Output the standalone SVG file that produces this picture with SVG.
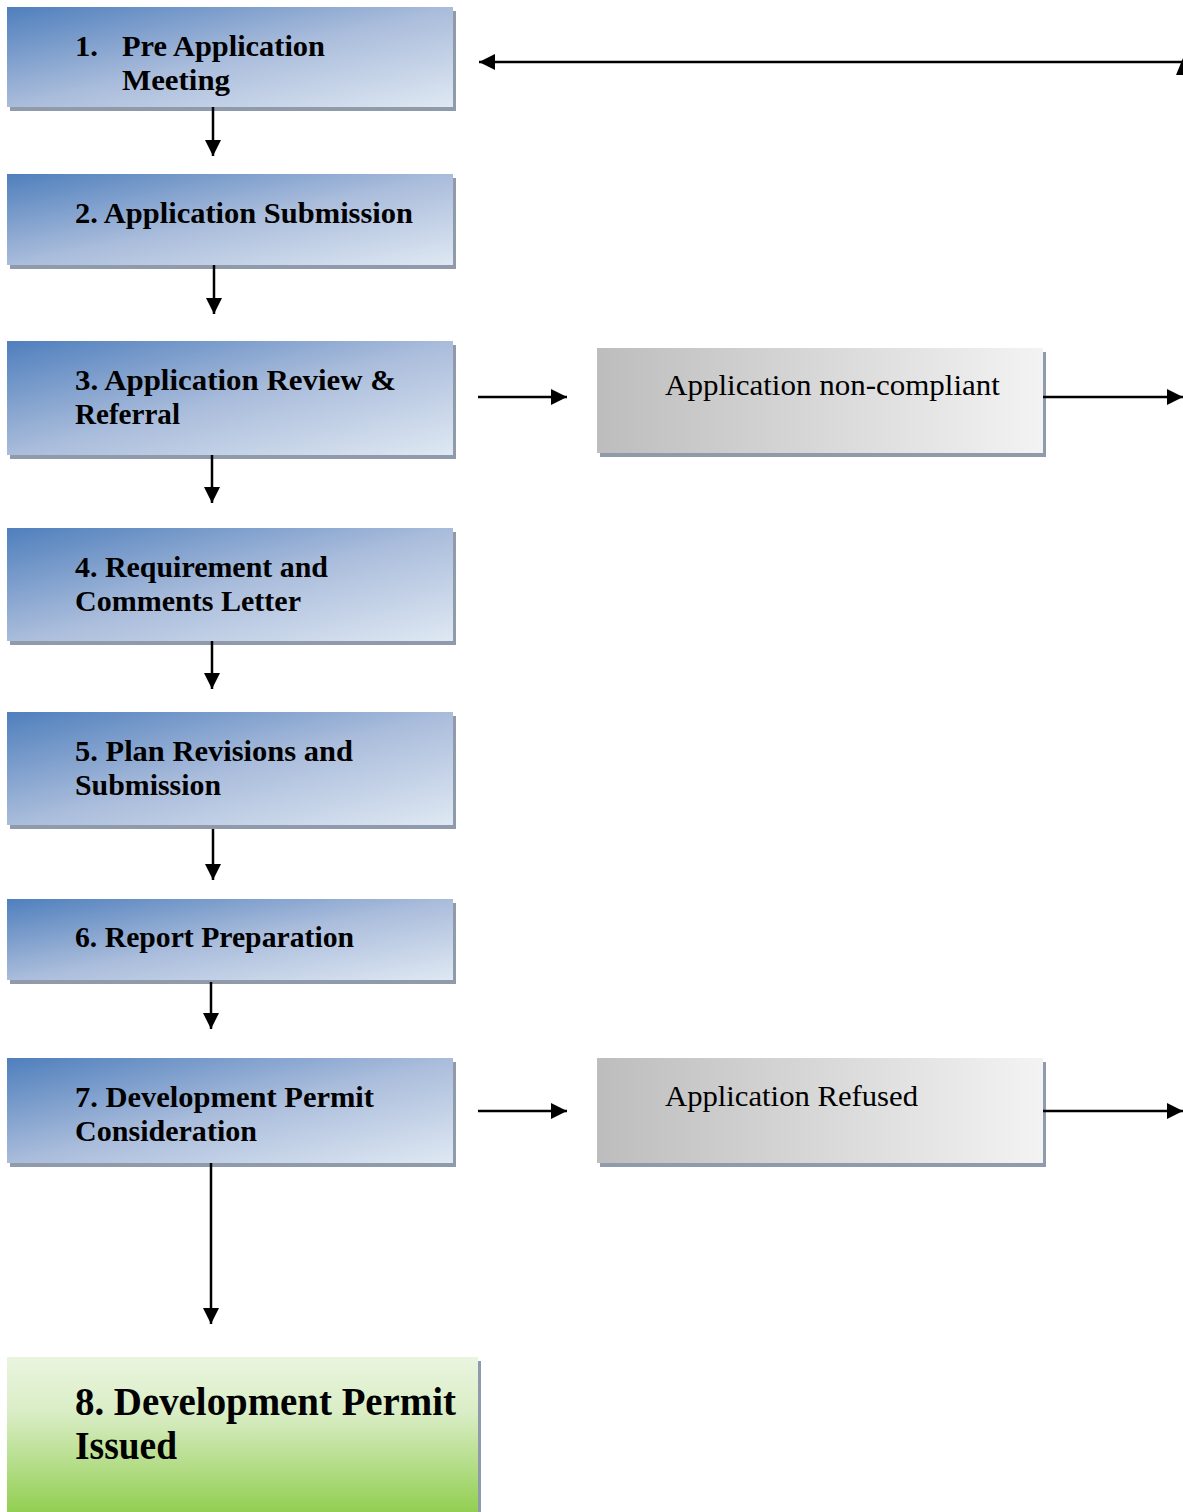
<svg xmlns="http://www.w3.org/2000/svg" width="1183" height="1512" viewBox="0 0 1183 1512">
<defs>
<linearGradient id="blue" x1="0" y1="0" x2="1" y2="1">
<stop offset="0" stop-color="#4f7fbd"/>
<stop offset="0.5" stop-color="#a9bcdb"/>
<stop offset="1" stop-color="#dfe8f3"/>
</linearGradient>
<linearGradient id="gray" x1="0" y1="0" x2="1" y2="0">
<stop offset="0" stop-color="#bdbdbd"/>
<stop offset="1" stop-color="#f3f3f3"/>
</linearGradient>
<linearGradient id="green" x1="0" y1="0" x2="0" y2="1">
<stop offset="0" stop-color="#eaf5e0"/>
<stop offset="0.35" stop-color="#d9edc5"/>
<stop offset="1" stop-color="#8fcd4c"/>
</linearGradient>
<marker id="ah" viewBox="0 0 10 10" refX="10" refY="5" markerWidth="16" markerHeight="16" markerUnits="userSpaceOnUse" orient="auto">
<path d="M0,0 L10,5 L0,10 z" fill="#000"/>
</marker>
</defs>
<style>
.shadow{fill:#8f9bab}
.b{fill:url(#blue)}
.g{fill:url(#gray)}
.gr{fill:url(#green)}
.t{font-family:"Liberation Serif","Times New Roman",serif;font-weight:bold;font-size:29px;fill:#000}
.t8{font-family:"Liberation Serif","Times New Roman",serif;font-weight:bold;font-size:39px;fill:#000}
.tg{font-family:"Liberation Serif","Times New Roman",serif;font-size:30px;fill:#000}
.c{stroke:#000;stroke-width:2.5;fill:none}
</style>
<rect width="1183" height="1512" fill="#fff"/>
<g id="n1">
<rect class="shadow" x="10" y="11" width="446" height="100"/>
<rect class="b" x="7" y="7" width="446" height="100"/>
<text class="t" x="75" y="56" textLength="23" lengthAdjust="spacingAndGlyphs">1.</text>
<text class="t" x="122" y="56" textLength="203" lengthAdjust="spacingAndGlyphs">Pre Application</text>
<text class="t" x="122" y="90" textLength="108" lengthAdjust="spacingAndGlyphs">Meeting</text>
</g>
<g id="n2">
<rect class="shadow" x="10" y="178" width="446" height="91"/>
<rect class="b" x="7" y="174" width="446" height="91"/>
<text class="t" x="75" y="223" textLength="338" lengthAdjust="spacingAndGlyphs">2. Application Submission</text>
</g>
<g id="n3">
<rect class="shadow" x="10" y="345" width="446" height="114"/>
<rect class="b" x="7" y="341" width="446" height="114"/>
<text class="t" x="75" y="390" textLength="321" lengthAdjust="spacingAndGlyphs">3. Application Review &amp;</text>
<text class="t" x="75" y="424" textLength="105" lengthAdjust="spacingAndGlyphs">Referral</text>
</g>
<g id="n4">
<rect class="shadow" x="10" y="532" width="446" height="113"/>
<rect class="b" x="7" y="528" width="446" height="113"/>
<text class="t" x="75" y="577" textLength="253" lengthAdjust="spacingAndGlyphs">4. Requirement and</text>
<text class="t" x="75" y="611" textLength="226" lengthAdjust="spacingAndGlyphs">Comments Letter</text>
</g>
<g id="n5">
<rect class="shadow" x="10" y="716" width="446" height="113"/>
<rect class="b" x="7" y="712" width="446" height="113"/>
<text class="t" x="75" y="761" textLength="278" lengthAdjust="spacingAndGlyphs">5. Plan Revisions and</text>
<text class="t" x="75" y="795" textLength="146" lengthAdjust="spacingAndGlyphs">Submission</text>
</g>
<g id="n6">
<rect class="shadow" x="10" y="903" width="446" height="81"/>
<rect class="b" x="7" y="899" width="446" height="81"/>
<text class="t" x="75" y="947" textLength="279" lengthAdjust="spacingAndGlyphs">6. Report Preparation</text>
</g>
<g id="n7">
<rect class="shadow" x="10" y="1062" width="446" height="105"/>
<rect class="b" x="7" y="1058" width="446" height="105"/>
<text class="t" x="75" y="1107" textLength="299" lengthAdjust="spacingAndGlyphs">7. Development Permit</text>
<text class="t" x="75" y="1141" textLength="182" lengthAdjust="spacingAndGlyphs">Consideration</text>
</g>
<g id="n8">
<rect class="shadow" x="10" y="1361" width="471" height="160"/>
<rect class="gr" x="7" y="1357" width="471" height="160"/>
<text class="t8" x="75" y="1415" textLength="381" lengthAdjust="spacingAndGlyphs">8. Development Permit</text>
<text class="t8" x="75" y="1459" textLength="102" lengthAdjust="spacingAndGlyphs">Issued</text>
</g>
<g id="nc">
<rect class="shadow" x="600" y="352" width="446" height="105"/>
<rect class="g" x="597" y="348" width="446" height="105"/>
<text class="tg" x="665" y="395" textLength="335" lengthAdjust="spacingAndGlyphs">Application non-compliant</text>
</g>
<g id="nr">
<rect class="shadow" x="600" y="1062" width="446" height="105"/>
<rect class="g" x="597" y="1058" width="446" height="105"/>
<text class="tg" x="665" y="1106" textLength="253" lengthAdjust="spacingAndGlyphs">Application Refused</text>
</g>
<g id="connectors">
<line class="c" x1="213" y1="107" x2="213" y2="156" marker-end="url(#ah)"/>
<line class="c" x1="214" y1="265" x2="214" y2="314" marker-end="url(#ah)"/>
<line class="c" x1="212" y1="455" x2="212" y2="503" marker-end="url(#ah)"/>
<line class="c" x1="212" y1="641" x2="212" y2="689" marker-end="url(#ah)"/>
<line class="c" x1="213" y1="829" x2="213" y2="880" marker-end="url(#ah)"/>
<line class="c" x1="211" y1="982" x2="211" y2="1029" marker-end="url(#ah)"/>
<line class="c" x1="211" y1="1163" x2="211" y2="1324" marker-end="url(#ah)"/>
<line class="c" x1="1183" y1="62" x2="479" y2="62" marker-end="url(#ah)"/>
<path d="M1176,75 L1183,58 L1183,75 z" fill="#000"/>
<line class="c" x1="478" y1="397" x2="567" y2="397" marker-end="url(#ah)"/>
<line class="c" x1="1043" y1="397" x2="1183" y2="397" marker-end="url(#ah)"/>
<line class="c" x1="478" y1="1111" x2="567" y2="1111" marker-end="url(#ah)"/>
<line class="c" x1="1043" y1="1111" x2="1183" y2="1111" marker-end="url(#ah)"/>
</g>
</svg>
